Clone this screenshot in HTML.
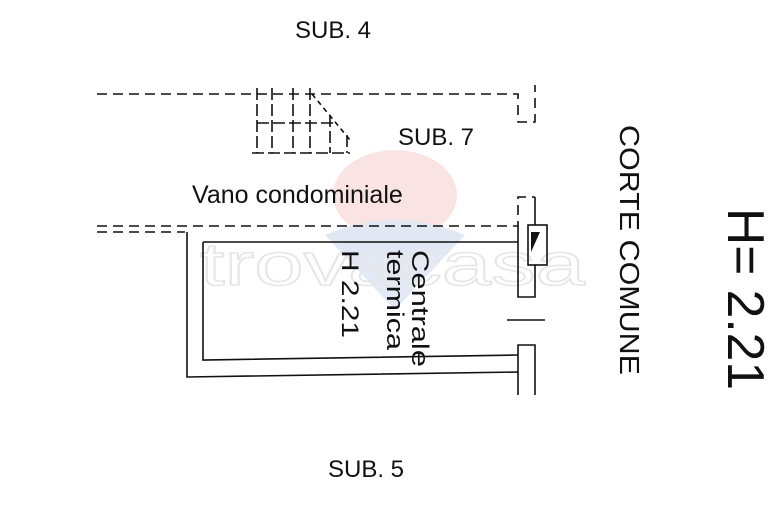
<!DOCTYPE html>
<html><head><meta charset="utf-8"><style>
html,body{margin:0;padding:0;background:#fff;}
svg{display:block;}
text{font-family:"Liberation Sans",sans-serif;fill:#111;}
</style></head><body>
<svg width="770" height="514" viewBox="0 0 770 514">
<g opacity="0.13">
<ellipse cx="395" cy="195" rx="62" ry="45" fill="#d33"/>
<path d="M325,235 Q395,205 465,235 L395,310 Z" fill="#2456b0"/>
</g>
<text x="200" y="285" font-size="60" style="fill:none;stroke:#e6e6e6;stroke-width:1.5" textLength="385" lengthAdjust="spacingAndGlyphs">trovacasa</text>
<g stroke="#111" stroke-width="1.6" fill="none">
<g stroke-dasharray="10,6">
<path d="M97,94 H518 V122 H535 V85"/>
<path d="M97,232 H185"/>
<path d="M97,226 H518 V197 H535"/>
</g>
<path d="M257,88 V153 M272,88 V153 M293,88 V153 M310,88 V153 M330,115 V153 M347,135 V153 M257,123 H335 M252,153 H350" stroke-dasharray="12,4"/>
<path d="M312,94 L350,140" stroke-dasharray="5,4"/>
<path d="M187,232 V377 L518,372 V395 M535,395 V345 H518 V372"/>
<path d="M203,242 H518 M203,242 V360 L518,355"/>
<path d="M535,197 V225 M518,226 V297 H535 V265"/>
<rect x="528" y="225" width="19" height="40"/>
<path d="M507,320 H545"/>
</g>
<path d="M531,252 L531,232 L540,232 Z" fill="#111"/>
<text x="295" y="38" font-size="24">SUB. 4</text>
<text x="398" y="145" font-size="24">SUB. 7</text>
<text x="192" y="203" font-size="25">Vano condominiale</text>
<text x="328" y="477" font-size="24">SUB. 5</text>
<text transform="translate(412,250) rotate(90)" font-size="24" textLength="117" lengthAdjust="spacingAndGlyphs">Centrale</text>
<text transform="translate(387,250) rotate(90)" font-size="24" textLength="100" lengthAdjust="spacingAndGlyphs">termica</text>
<text transform="translate(342,250) rotate(90)" font-size="24" textLength="88" lengthAdjust="spacingAndGlyphs">H 2.21</text>
<text transform="translate(620,125) rotate(90)" font-size="28" textLength="250" lengthAdjust="spacingAndGlyphs">CORTE COMUNE</text>
<text transform="translate(728,208) rotate(90)" font-size="52" textLength="182" lengthAdjust="spacingAndGlyphs">H= 2.21</text>
</svg>
</body></html>
